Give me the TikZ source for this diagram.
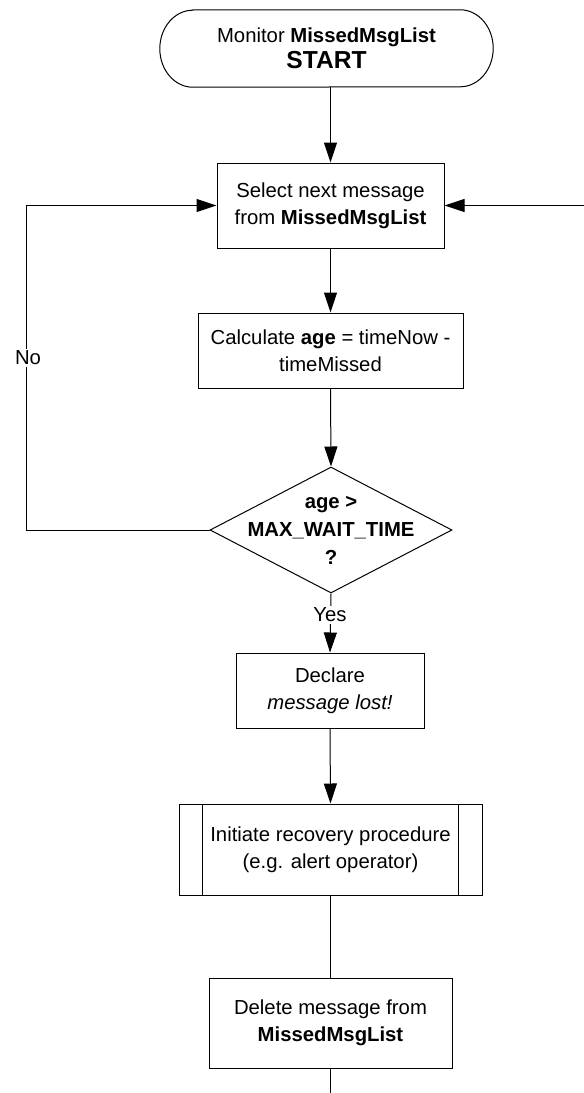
\documentclass[tikz,border=0pt]{standalone}
\usepackage{fontspec}
\setmainfont{Liberation Sans}
\usetikzlibrary{arrows.meta,shapes.geometric}

\tikzset{
  txt/.style={font=\fontsize{20.3}{27}\selectfont, align=center, inner sep=0pt},
  procbox/.style={txt, draw, line width=1pt, rectangle},
  flow/.style={line width=1pt},
  arr/.style={flow, -{Triangle[length=20pt,width=13pt]}},
  lbl/.style={txt, fill=white, inner sep=1.5pt}
}

\begin{document}
\begin{tikzpicture}[x=1pt, y=-1pt]
  \useasboundingbox (0,0) rectangle (584,1093);

  % start terminal (outline drawn below with elliptic ends)
  \node (start) [txt, minimum width=333pt, minimum height=77pt] at (326.5,48.5)
    {Monitor \textbf{MissedMsgList}\\[-0.5pt]{\fontsize{24.6}{27}\selectfont\bfseries START}};
  \draw[flow] ([xshift=33pt]start.north west) -- ([xshift=-33pt]start.north east)
    arc[start angle=90, end angle=-90, x radius=33pt, y radius=38.5pt]
    -- ([xshift=33pt]start.south west)
    arc[start angle=270, end angle=90, x radius=33pt, y radius=38.5pt] -- cycle;

  % process steps
  \node (sel) [procbox, minimum width=227pt, minimum height=85pt] at (330.5,205.5)
    {Select next message\\from \textbf{MissedMsgList}};
  \node (calc) [procbox, minimum width=265pt, minimum height=75pt] at (330.5,350.5)
    {Calculate \textbf{age} = timeNow -\\timeMissed};

  % decision
  \node (dec) [draw, diamond, line width=1pt, inner sep=0pt,
               minimum width=242pt, minimum height=126pt] at (331,530) {};
  \node (dectxt) [txt, font=\fontsize{20.3}{28}\selectfont\bfseries] at (331,530)
    {age >\\MAX\_WAIT\_TIME\\?};

  \node (dcl) [procbox, minimum width=188pt, minimum height=75pt] at (330,690.5)
    {Declare\\\textit{message lost!}};

  % predefined process with side bars
  \node (init) [procbox, minimum width=303pt, minimum height=91pt] at (330.5,849.5)
    {Initiate recovery procedure\\(e.g. alert operator)};
  \draw[flow] ([xshift=24pt]init.north west) -- ([xshift=24pt]init.south west);
  \draw[flow] ([xshift=-24pt]init.north east) -- ([xshift=-24pt]init.south east);

  \node (del) [procbox, minimum width=243pt, minimum height=90pt] at (330.5,1023)
    {Delete message from\\\textbf{MissedMsgList}};

  % loose ends and loop corner
  \coordinate (rin) at (584,205.5);
  \coordinate (lc) at (26,0);
  \coordinate (out) at (330.5,1093);

  % connectors
  \draw[arr] (start.south -| sel.north) -- (sel.north);
  \draw[arr] (rin) -- (sel.east);
  \draw[arr] (sel.south) -- (calc.north);
  \draw[arr] (calc.south) -- (dec.north);
  \draw[arr] (dec.west) -- (dec.west -| lc) -- (sel.west -| lc) -- (sel.west);
  \draw[arr] (dec.south) -- (dcl.north);
  \draw[arr] (dcl.south) -- (init.north);
  \draw[flow] (init.south) -- (del.north);
  \draw[flow] (del.south) -- (out);

  % branch labels
  \node (no) [lbl] at (28,358) {No};
  \node (yes) [lbl] at (330,615) {Yes};
\end{tikzpicture}
\end{document}
